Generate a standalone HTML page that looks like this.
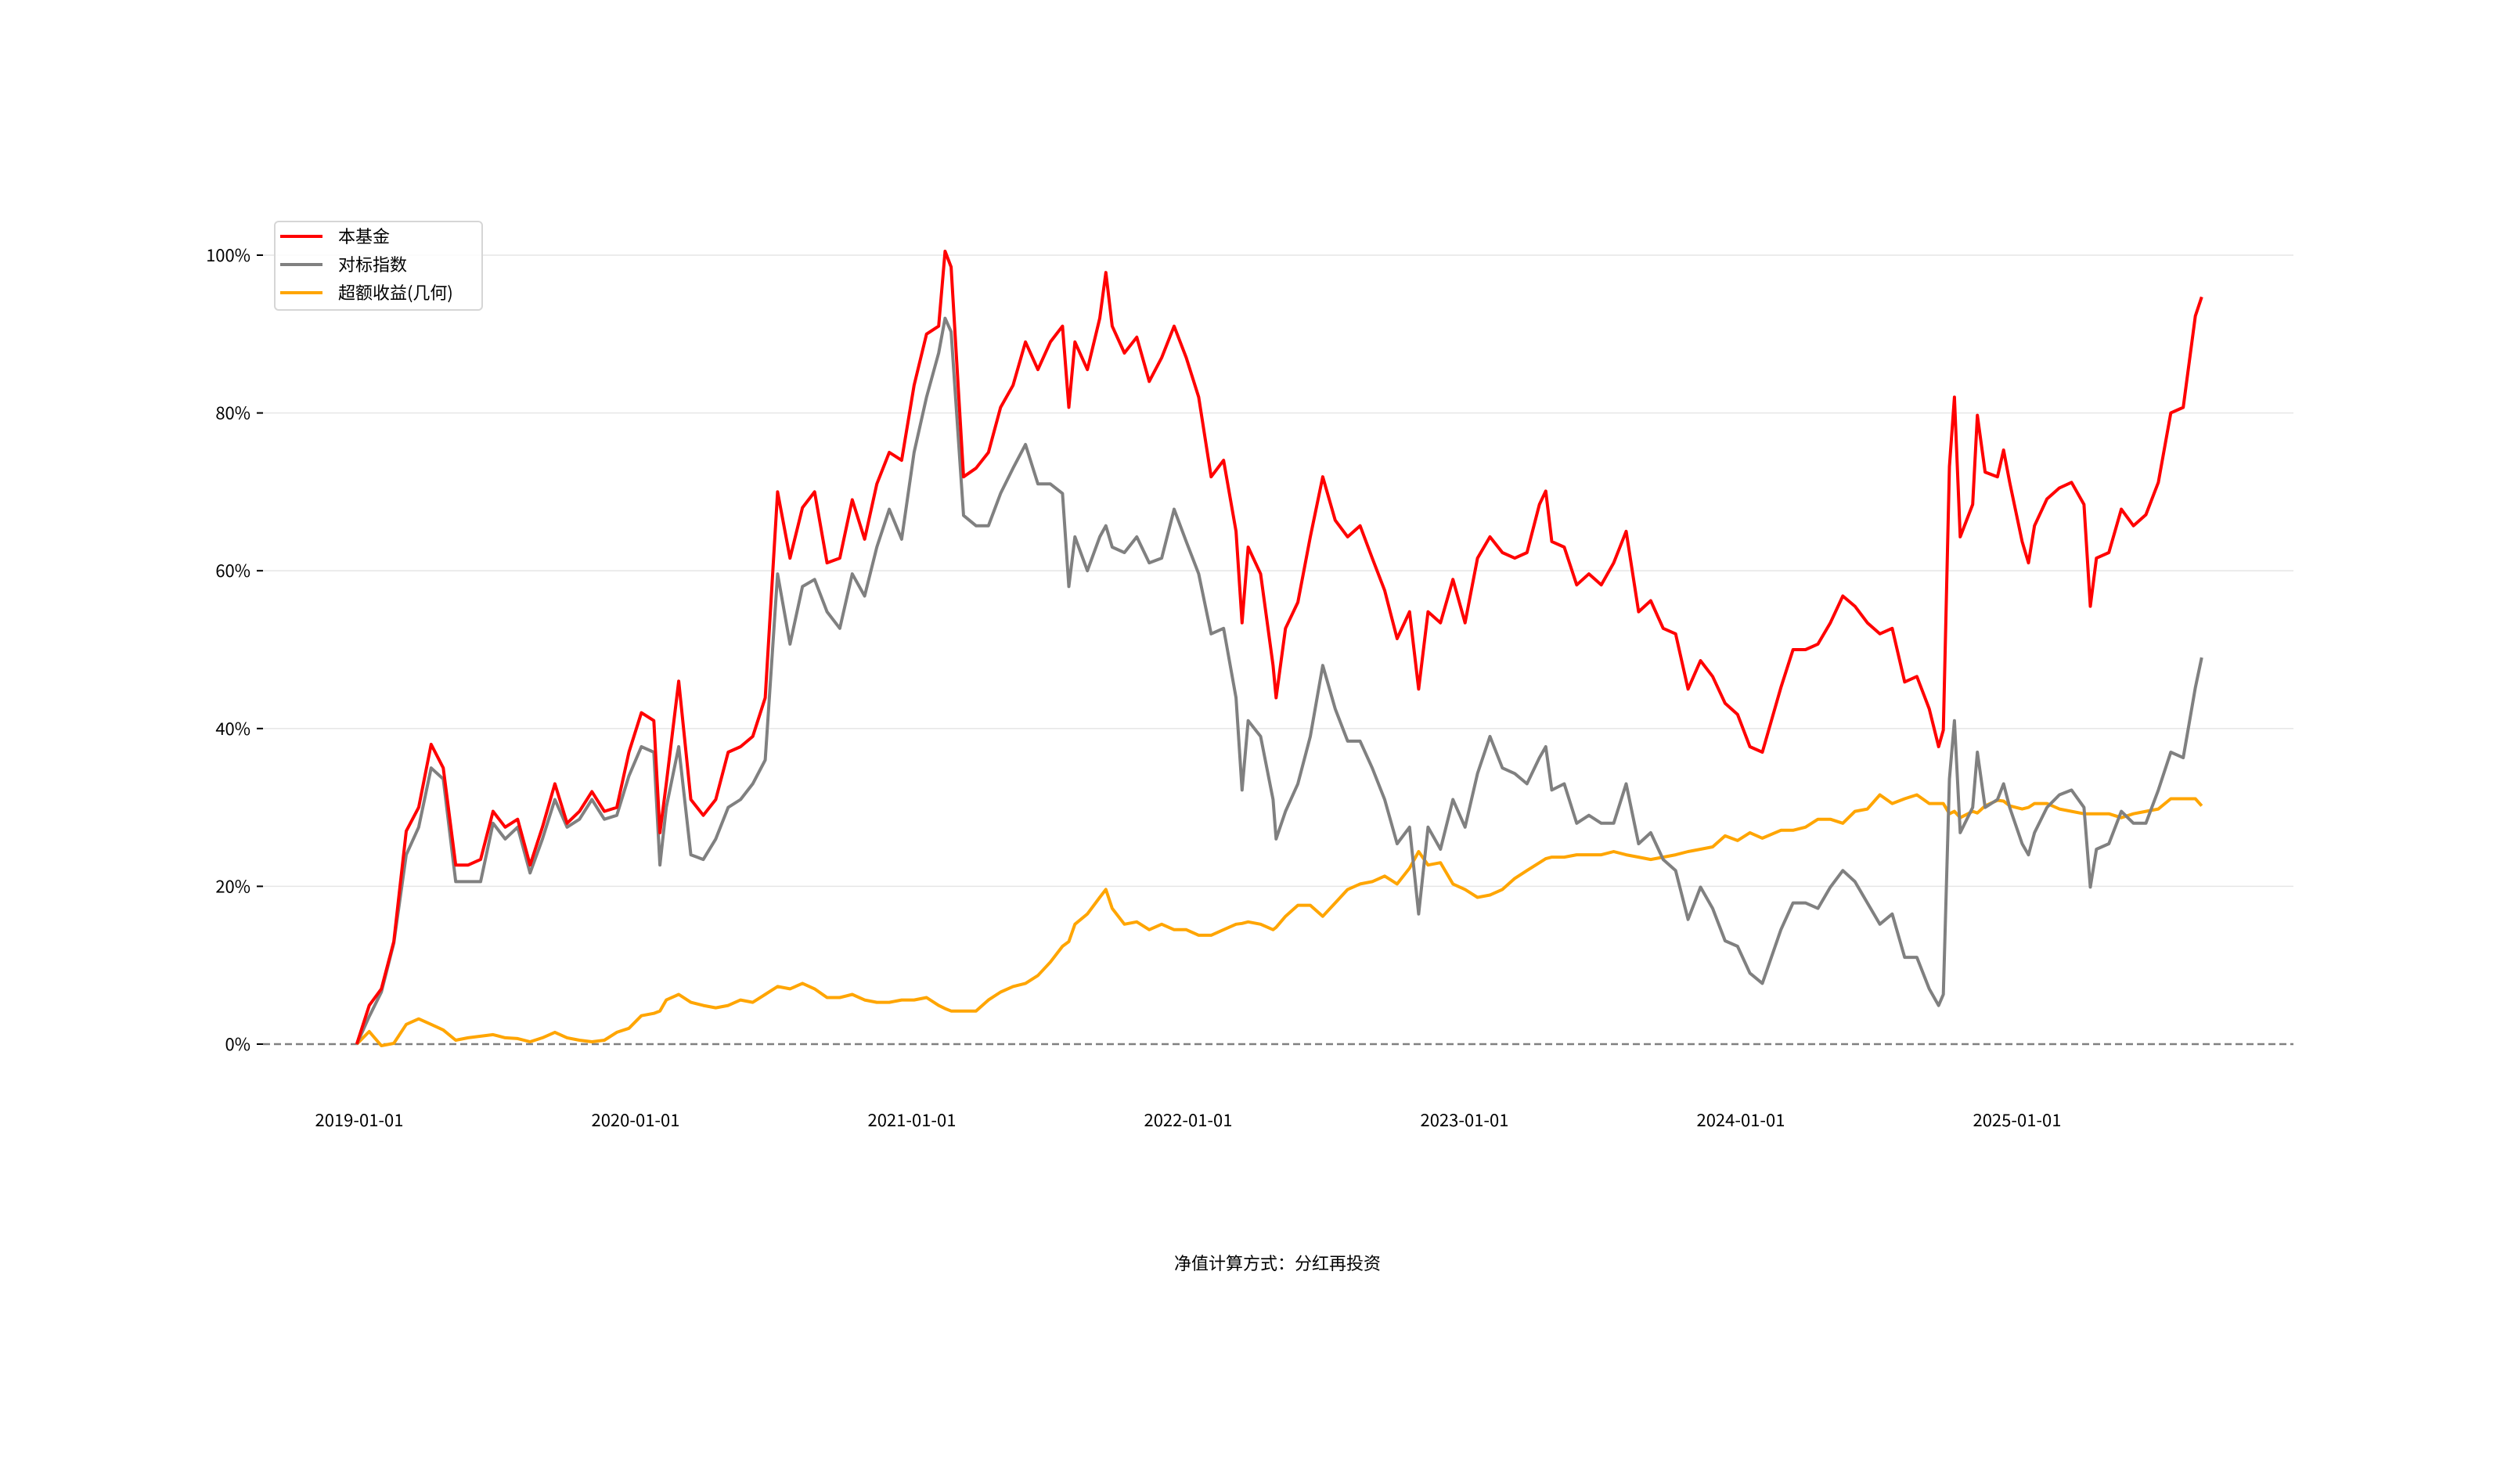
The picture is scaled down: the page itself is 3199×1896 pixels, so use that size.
<!DOCTYPE html>
<html><head><meta charset="utf-8"><style>
html,body{margin:0;padding:0;background:#fff;}
svg{display:block;font-family:"WenQuanYi Zen Hei","Noto Sans CJK SC","Liberation Sans",sans-serif;}
</style></head><body>
<svg id="chart" width="3199" height="1896" viewBox="0 0 3199 1896" xmlns="http://www.w3.org/2000/svg">
<g id="grid"></g>
<g id="yaxis"></g>
<g id="xaxis"></g>
<g id="series"></g>
<g>
<rect x="351" y="283" width="265" height="113" rx="5" fill="#fff" fill-opacity="0.85" stroke="#d6d6d6" stroke-width="2"/>
<line x1="358" y1="302" x2="412" y2="302" stroke="#ff0000" stroke-width="4"/>
<text x="432" y="310" font-size="22" fill="#000">本基金</text>
<line x1="358" y1="338" x2="412" y2="338" stroke="#808080" stroke-width="4"/>
<text x="432" y="346" font-size="22" fill="#000">对标指数</text>
<line x1="358" y1="374" x2="412" y2="374" stroke="#ffa500" stroke-width="4"/>
<text x="432" y="382" font-size="22" fill="#000">超额收益(几何)</text>
</g>
<text x="1632" y="1622" font-size="22" text-anchor="middle" fill="#000">净值计算方式：分红再投资</text>
</svg>
<script>
const dates = [2018.991,2019.036,2019.080,2019.125,2019.170,2019.215,2019.260,2019.304,2019.349,2019.394,2019.439,2019.484,2019.528,2019.573,2019.618,2019.663,2019.708,2019.752,2019.797,2019.842,2019.887,2019.932,2019.976,2020.021,2020.066,2020.088,2020.111,2020.156,2020.200,2020.245,2020.290,2020.335,2020.380,2020.424,2020.469,2020.514,2020.559,2020.604,2020.648,2020.693,
2020.739,2020.784,2020.829,2020.873,2020.918,2020.963,2021.008,2021.053,2021.097,2021.120,2021.142,2021.187,2021.232,2021.277,2021.321,2021.366,2021.411,2021.456,2021.501,2021.545,2021.568,2021.590,2021.635,2021.680,2021.702,2021.725,2021.769,2021.814,2021.859,2021.904,2021.949,2021.993,2022.038,2022.083,2022.128,2022.173,2022.195,2022.217,2022.262,2022.307,2022.318,2022.352,2022.397,
2022.442,2022.487,2022.532,2022.577,2022.622,2022.666,2022.711,2022.756,2022.801,2022.834,2022.868,2022.913,2022.958,2023.002,2023.047,2023.092,2023.137,2023.182,2023.226,2023.271,2023.294,2023.316,2023.361,2023.406,2023.450,2023.495,2023.540,2023.585,2023.630,2023.674,2023.719,2023.764,2023.809,2023.854,2023.898,2023.943,2023.988,2024.033,2024.078,
2024.145,2024.189,2024.234,2024.279,2024.324,2024.369,2024.413,2024.458,2024.503,2024.548,2024.593,2024.637,2024.682,2024.716,2024.733,2024.755,2024.773,2024.794,2024.839,2024.856,2024.884,2024.929,2024.951,2024.973,2025.018,2025.041,2025.063,2025.108,2025.153,2025.197,2025.242,2025.265,2025.287,2025.332,2025.377,2025.421,2025.466,2025.511,2025.556,2025.601,2025.645,2025.668];
const fundValues = [0,4.9,7,13,27,30,38,35,22.7,22.7,23.4,29.5,27.5,28.5,22.7,27.5,33,28,29.5,32,29.5,30,37,42,41,26.8,33,46,31,29,31,37,37.7,39,43.9,70,61.6,68,70,61,
61.6,69,64,71,75,74,83.5,90,91,100.5,98.5,71.9,73,75,80.7,83.5,89,85.5,89,91,80.7,89,85.5,92,97.8,91,87.6,89.6,84,87,91,87,82,71.9,74,65,53.4,63,59.6,48,43.9,52.7,56,
64.3,71.9,66.4,64.3,65.7,61.6,57.5,51.4,54.8,45,54.8,53.4,58.9,53.4,61.6,64.3,62.3,61.6,62.3,68.4,70.1,63.7,63,58.2,59.6,58.2,61,65,54.8,56.2,52.7,52,45,48.6,46.6,43.2,41.8,37.7,37,
45.2,50,50,50.7,53.4,56.8,55.5,53.4,52,52.7,45.9,46.6,42.5,37.7,39.8,73.2,82,64.3,68.4,79.7,72.5,71.9,75.3,71.2,63.7,61,65.7,69.1,70.5,71.2,68.4,55.5,61.6,62.3,67.8,65.7,67.1,71.2,80,80.7,92.3,94.7];
const indexValues = [0,3.5,6.6,12.8,24,27.5,35,33.6,20.6,20.6,20.6,28,26,27.5,21.7,26,31,27.5,28.5,31,28.5,29,34,37.7,37,22.7,30,37.7,24,23.4,26,30,31,33,36,59.6,50.7,58,58.9,54.8,
52.7,59.6,56.8,63,67.8,64,75,82,87.6,92,90.3,67,65.7,65.7,69.8,73,76,71,71,69.8,58,64.3,60,64.3,65.7,63,62.3,64.3,61,61.6,67.8,63.7,59.6,52,52.7,43.9,32.2,41,39,31,26,29.5,33,
39,48,42.5,38.4,38.4,35,31,25.4,27.5,16.5,27.5,24.7,31,27.5,34.3,39,35,34.3,33,36.3,37.7,32.2,33,28,29,28,28,33,25.4,26.8,23.4,22,15.8,19.9,17.2,13.1,12.4,9,7.7,
14.5,17.9,17.9,17.2,19.9,22,20.6,17.9,15.2,16.5,11,11,7,4.9,6.3,33.6,41,26.8,30,37,30,31,33,30,25.4,24,26.8,30,31.6,32.2,30,19.9,24.7,25.4,29.5,28,28,32.2,37,36.3,45.2,49];
const excessValues = [0,1.6,-0.2,0.1,2.5,3.2,2.5,1.8,0.5,0.8,1,1.2,0.8,0.7,0.3,0.8,1.5,0.8,0.5,0.3,0.5,1.5,2,3.6,3.9,4.2,5.6,6.3,5.3,4.9,4.6,4.9,5.6,5.3,6.3,7.3,7,7.7,7,5.9,
5.9,6.3,5.6,5.3,5.3,5.6,5.6,5.9,4.9,4.5,4.2,4.2,4.2,5.6,6.6,7.3,7.7,8.7,10.4,12.4,13,15.2,16.5,18.6,19.6,17.2,15.2,15.5,14.5,15.2,14.5,14.5,13.8,13.8,14.5,15.2,15.3,15.5,15.2,14.5,14.8,16.2,17.6,
17.6,16.2,17.9,19.6,20.3,20.6,21.3,20.3,22.3,24.4,22.7,23,20.3,19.6,18.6,18.9,19.6,21,22,23,23.5,23.7,23.7,24,24,24,24.4,24,23.7,23.4,23.7,24,24.4,24.7,25,26.4,25.8,26.8,26.1,
27.1,27.1,27.5,28.5,28.5,28,29.5,29.8,31.6,30.5,31.1,31.6,30.5,30.5,30.5,29.2,29.5,28.7,29.5,29.3,30.2,30.9,30.8,30.2,29.8,30,30.5,30.5,29.8,29.5,29.2,29.2,29.2,29.2,28.7,29.2,29.5,29.8,31.1,31.1,31.1,30.2];
const yTicks = [0,20,40,60,80,100];
const xTickLabels = ["2019-01-01","2020-01-01","2021-01-01","2022-01-01","2023-01-01","2024-01-01","2025-01-01"];
const xTickYears = [2019,2020,2021,2022,2023,2024,2025];

const NS="http://www.w3.org/2000/svg";
const X0=459, PX_PER_YEAR=353, Y0=1334, PX_PER_PCT=10.08, GL=336, GR=2930;
function xScale(t){return X0+(t-2019)*PX_PER_YEAR;}
function yScale(v){return Y0-v*PX_PER_PCT;}
function mk(tag,attrs,parent){const e=document.createElementNS(NS,tag);for(const k in attrs)e.setAttribute(k,attrs[k]);parent.appendChild(e);return e;}

const grid=document.getElementById('grid'), ya=document.getElementById('yaxis'), xa=document.getElementById('xaxis'), sg=document.getElementById('series');
yTicks.forEach(v=>{
  const y=yScale(v);
  if(v!==0){
    const gl=mk('line',{x1:GL,x2:GR,y1:y,y2:y,stroke:'#e6e6e6','stroke-width':1.5},grid);
    
    
  }
  const tk=mk('line',{x1:GL-8,x2:GL,y1:y,y2:y,stroke:'#000','stroke-width':2},ya);
  
  
  const tl=mk('text',{x:GL-16,y:y+8,'font-size':22,'text-anchor':'end',fill:'#000'},ya);
  tl.textContent=v+'%';
  
  
});
const zl=mk('line',{x1:GL,x2:GR,y1:yScale(0),y2:yScale(0),stroke:'#808080','stroke-width':2.5,'stroke-dasharray':'9,5'},grid);


xTickYears.forEach((yr,i)=>{
  const t=mk('text',{x:xScale(yr),y:1439,'font-size':22,'text-anchor':'middle',fill:'#000'},xa);
  t.textContent=xTickLabels[i];
  
  
});
function drawLine(vals,color,name){
  const d=vals.map((v,i)=>(i?'L':'M')+xScale(dates[i]).toFixed(1)+','+yScale(v).toFixed(1)).join(' ');
  const p=mk('path',{d:d,fill:'none',stroke:color,'stroke-width':4,'stroke-linejoin':'round'},sg);
  
  
}
drawLine(excessValues,'#ffa500','excess-return-line');
drawLine(indexValues,'#808080','benchmark-index-line');
drawLine(fundValues,'#ff0000','fund-line');
</script>
</body></html>
